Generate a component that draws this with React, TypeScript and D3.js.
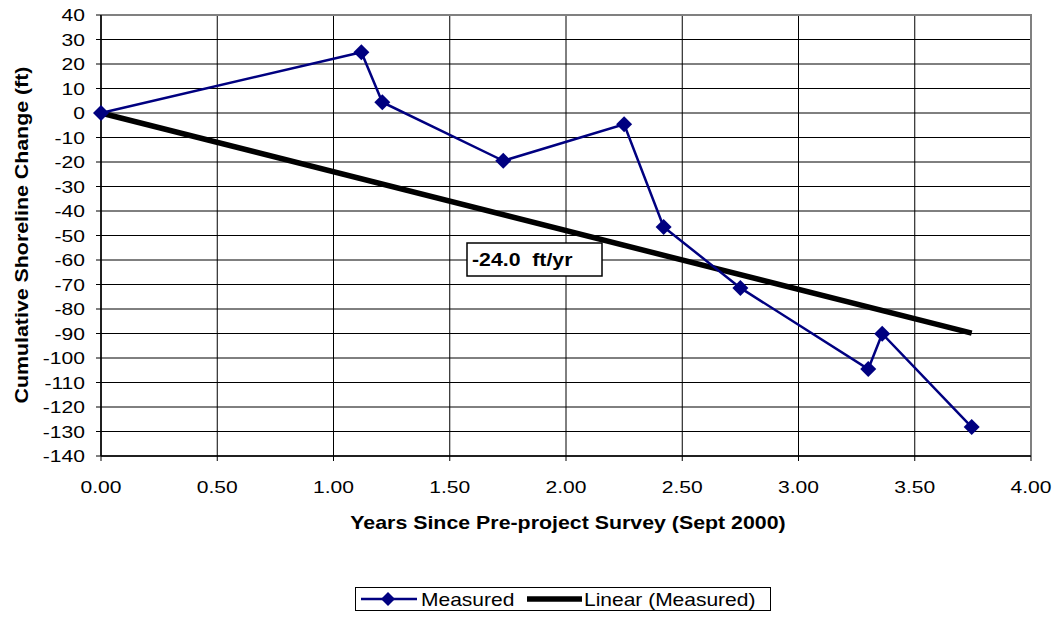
import React from "react";
import * as d3 from "d3";

const years = [0, 1.12, 1.21, 1.73, 2.25, 2.42, 2.75, 3.3, 3.36, 3.745];
const measured = [0, 24.8, 4.4, -19.5, -4.6, -46.5, -71.4, -104.5, -90.1, -128.2];
const trendSlope = -24.0;
const trendLabel = "-24.0  ft/yr";
const xTicks = [0, 0.5, 1, 1.5, 2, 2.5, 3, 3.5, 4];
const yTicks = d3.range(40, -141, -10);
const xTitle = "Years Since Pre-project Survey (Sept 2000)";
const yTitle = "Cumulative Shoreline Change (ft)";
const seriesNames = ["Measured", "Linear (Measured)"];

const W = 1057, H = 623;
const L = 101, R = 1031, T = 15, B = 456;
const NAVY = "#000080";
const FONT = "'Liberation Sans', Arial, sans-serif";

function Txt(props: {
  x: number; y: number; size: number; sx: number; anchor?: string; bold?: boolean; rot?: number; children: any;
}) {
  const { x, y, size, sx, anchor = "start", bold = false, rot = 0, children } = props;
  return (
    <g transform={`translate(${x},${y}) rotate(${rot}) scale(${sx},1)`}>
      <text x={0} y={0} textAnchor={anchor} fontSize={size} fontWeight={bold ? "bold" : "normal"} style={{ whiteSpace: "pre" }}>
        {children}
      </text>
    </g>
  );
}

export default function App() {
  const x = d3.scaleLinear().domain([0, 4]).range([L, R]);
  const y = d3.scaleLinear().domain([-140, 40]).range([B, T]);
  const pts = years.map((v, i) => [x(v), y(measured[i])] as [number, number]);
  const line = d3.line();
  const xMin = d3.min(years)!, xMax = d3.max(years)!;
  const diamond = (cx: number, cy: number, r: number) =>
    `M${cx},${cy - r}L${cx + r},${cy}L${cx},${cy + r}L${cx - r},${cy}Z`;

  return (
    <svg width={W} height={H} style={{ position: "absolute", left: 0, top: 0, fontFamily: FONT }}>
      <rect x={0} y={0} width={W} height={H} fill="#fff" />
      {yTicks.map((t) => (
        <line key={"gy" + t} x1={L} x2={R} y1={y(t)} y2={y(t)} stroke="#000" strokeWidth={1} />
      ))}
      {xTicks.map((t) => (
        <line key={"gx" + t} x1={x(t)} x2={x(t)} y1={T} y2={B} stroke="#000" strokeWidth={1} />
      ))}
      <line x1={L} x2={R + 1} y1={T} y2={T} stroke="#808080" strokeWidth={2} />
      <line x1={R} x2={R} y1={T} y2={B} stroke="#808080" strokeWidth={2} />
      <line x1={L} x2={L} y1={T} y2={B} stroke="#000" strokeWidth={1.5} />
      <line x1={L} x2={R} y1={B} y2={B} stroke="#000" strokeWidth={1.5} />
      {yTicks.map((t) => (
        <g key={"ty" + t}>
          <line x1={L - 5} x2={L} y1={y(t)} y2={y(t)} stroke="#000" />
          <Txt x={85} y={y(t) + 6} size={17} sx={1.24} anchor="end">{t}</Txt>
        </g>
      ))}
      {xTicks.map((t) => (
        <g key={"tx" + t}>
          <line x1={x(t)} x2={x(t)} y1={B} y2={B + 5} stroke="#000" />
          <Txt x={x(t)} y={493} size={17} sx={1.24} anchor="middle">{t.toFixed(2)}</Txt>
        </g>
      ))}
      <Txt x={568} y={529} size={17.5} sx={1.22} anchor="middle" bold>{xTitle}</Txt>
      <Txt x={28} y={235} size={17.5} sx={1.22} anchor="middle" bold rot={-90}>{yTitle}</Txt>
      <line x1={x(xMin)} y1={y(trendSlope * xMin)} x2={x(xMax)} y2={y(trendSlope * xMax)} stroke="#000" strokeWidth={5.5} />
      <path d={line(pts) || ""} fill="none" stroke={NAVY} strokeWidth={2.5} />
      {pts.map(([px, py], i) => (
        <path key={"m" + i} d={diamond(px, py, 8)} fill={NAVY} />
      ))}
      <rect x={467} y={243} width={135} height={33} fill="#fff" stroke="#000" strokeWidth={1.5} />
      <Txt x={472} y={266} size={19} sx={1.12} bold>{trendLabel}</Txt>
      <rect x={355.5} y={587.5} width={415} height={23} fill="#fff" stroke="#000" strokeWidth={1} />
      <line x1={361} x2={417} y1={599} y2={599} stroke={NAVY} strokeWidth={2.5} />
      <path d={diamond(388, 599, 7)} fill={NAVY} />
      <Txt x={421} y={605.5} size={17.5} sx={1.2}>{seriesNames[0]}</Txt>
      <line x1={527} x2={582} y1={599} y2={599} stroke="#000" strokeWidth={5.5} />
      <Txt x={584} y={605.5} size={17.5} sx={1.2}>{seriesNames[1]}</Txt>
    </svg>
  );
}
